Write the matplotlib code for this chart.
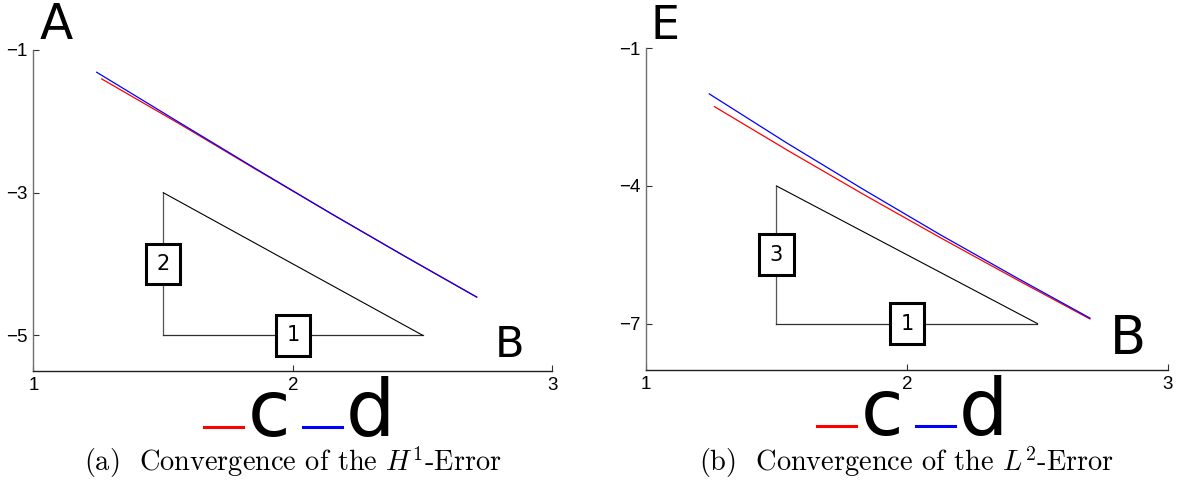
import matplotlib
matplotlib.use("Agg")
import matplotlib.pyplot as plt
from matplotlib.legend_handler import HandlerLine2D
from matplotlib.lines import Line2D
import numpy as np

# ---------------- data ----------------
series_labels = ["c", "d"]
series_colors = ["#ff0000", "#0000ff"]

# (a) H1 error
x_h1_c = [1.263, 1.56, 1.86, 2.15, 2.43, 2.708]
y_h1_c = [-1.406, -2.03, -2.68, -3.30, -3.89, -4.464]
x_h1_d = [1.2435, 1.55, 1.85, 2.15, 2.43, 2.708]
y_h1_d = [-1.312, -1.99, -2.65, -3.30, -3.89, -4.464]

# (b) L2 error
x_l2_c = [1.262, 1.55, 1.84, 2.13, 2.42, 2.701]
y_l2_c = [-2.270, -3.249, -4.206, -5.134, -6.039, -6.899]
x_l2_d = [1.2425, 1.54, 1.835, 2.13, 2.42, 2.701]
y_l2_d = [-1.994, -3.065, -4.083, -5.071, -6.000, -6.880]

# slope triangles: (x_left, x_right, y_top, y_bottom, vertical label, horizontal label)
tri_h1 = (1.5, 2.5, -3.0, -5.0, "2", "1")
tri_l2 = (1.5, 2.5, -4.0, -7.0, "3", "1")

xticks = [1, 2, 3]
yticks_h1 = [-1, -3, -5]
yticks_l2 = [-1, -4, -7]
ylim_h1 = (-5.5, -1)
ylim_l2 = (-8, -1)

captions = [r"(a)  Convergence of the $H^1$-Error",
            r"(b)  Convergence of the $L^2$-Error"]

# ---------------- style ----------------
plt.rcParams["mathtext.fontset"] = "cm"
plt.rcParams["font.family"] = ["DejaVu Sans"]

fig = plt.figure(figsize=(11.77, 4.86), dpi=100)
ax1 = fig.add_axes([0.02846, 0.23663, 0.44095, 0.66049])
ax2 = fig.add_axes([0.54885, 0.23971, 0.44350, 0.66090])


class LowLineHandler(HandlerLine2D):
    def create_artists(self, legend, orig_handle, xdescent, ydescent,
                       width, height, fontsize, trans):
        arts = super().create_artists(legend, orig_handle, xdescent, ydescent,
                                      width, height, fontsize, trans)
        for a in arts:
            if isinstance(a, Line2D):
                yd = np.asarray(a.get_ydata(), dtype=float)
                a.set_ydata(np.full_like(yd, 0.115 * fontsize))
        return arts


def style_axes(ax, yticks, ylim):
    ax.set_xlim(1, 3)
    ax.set_ylim(*ylim)
    ax.set_xticks(xticks)
    ax.set_yticks(yticks)
    ax.set_xticklabels([str(t) for t in xticks])
    ax.set_yticklabels([("\u2212" + str(-t)) if t < 0 else str(t) for t in yticks])
    for s in ["top", "right"]:
        ax.spines[s].set_visible(False)
    ax.spines["left"].set_color("#707070")
    ax.spines["bottom"].set_color("#202020")
    ax.spines["left"].set_linewidth(1.0)
    ax.spines["bottom"].set_linewidth(1.0)
    ax.tick_params(direction="in", length=4, width=0.8, colors="#303030",
                   labelcolor="black")
    ax.tick_params(axis="x", pad=4.5)
    ax.tick_params(axis="y", pad=4)
    for lab in ax.get_xticklabels() + ax.get_yticklabels():
        lab.set_fontfamily("Liberation Sans")
        lab.set_fontsize(13.5)
    ax.patch.set_alpha(0)


def draw_triangle(ax, tri):
    xl, xr, yt, yb, lab_v, lab_h = tri
    ax.plot([xl, xl], [yt, yb], color="#555555", lw=0.9, zorder=2)
    ax.plot([xl, xr], [yb, yb], color="#303030", lw=0.9, zorder=2)
    ax.plot([xl, xr], [yt, yb], color="black", lw=0.8, zorder=2)
    box = dict(boxstyle="square,pad=0.5", fc="white", ec="black", lw=2.2)
    ax.text(xl, (yt + yb) / 2, lab_v, ha="center", va="center", fontsize=15,
            family="DejaVu Sans", bbox=box, zorder=3)
    ax.text((xl + xr) / 2, yb, lab_h, ha="center", va="center", fontsize=15,
            family="DejaVu Sans", bbox=box, zorder=3)


def draw_series(ax, xs, ys):
    handles = []
    for x, y, lab, col in zip(xs, ys, series_labels, series_colors):
        h, = ax.plot(x, y, color=col, lw=0.9, label=lab, zorder=4)
        handles.append(h)
    return handles


# ---- panel (a)
style_axes(ax1, yticks_h1, ylim_h1)
draw_triangle(ax1, tri_h1)
h1 = draw_series(ax1, [x_h1_c, x_h1_d], [y_h1_c, y_h1_d])
ax1.text(0.0125, 1.034, "A", transform=ax1.transAxes, fontsize=35,
         ha="left", va="baseline")
ax1.text(0.889, 0.0445, "B", transform=ax1.transAxes, fontsize=31,
         ha="left", va="baseline")

# ---- panel (b)
style_axes(ax2, yticks_l2, ylim_l2)
draw_triangle(ax2, tri_l2)
h2 = draw_series(ax2, [x_l2_c, x_l2_d], [y_l2_c, y_l2_d])
ax2.text(0.0077, 1.028, "E", transform=ax2.transAxes, fontsize=33,
         ha="left", va="baseline")
ax2.text(0.889, 0.048, "B", transform=ax2.transAxes, fontsize=38,
         ha="left", va="baseline")

for ax, hs, cx in [(ax1, h1, 0.513), (ax2, h2, 0.511)]:
    leg = ax.legend(handles=hs, labels=series_labels, ncol=2, frameon=False,
                    fontsize=56, loc="upper center",
                    bbox_to_anchor=(cx, -0.016), borderpad=0, borderaxespad=0,
                    handlelength=0.5, handletextpad=0.06, columnspacing=0.16,
                    handler_map={Line2D: LowLineHandler()})
    for ln in leg.get_lines():
        ln.set_linewidth(2.2)

for ax, cap in zip([ax1, ax2], captions):
    pos = ax.get_position()
    fig.text((pos.x0 + pos.x1) / 2, 0.049, cap, ha="center", va="center",
             fontsize=20.4, family="cmr10")

fig.savefig("out.png", dpi=100)
